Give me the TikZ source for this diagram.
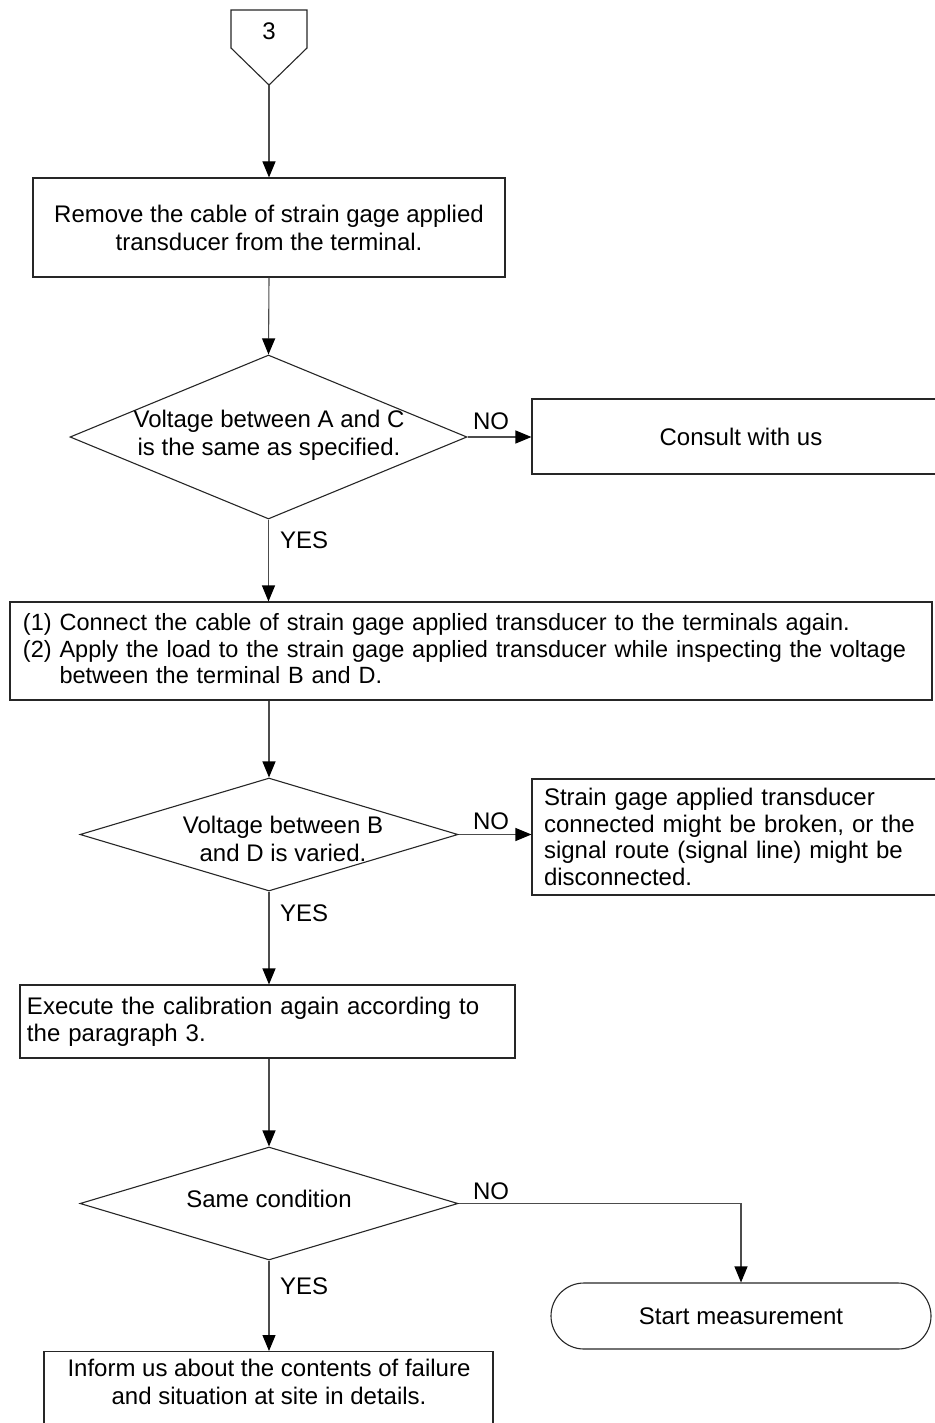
\documentclass[tikz,border=0pt]{standalone}
\usepackage{fontspec}
\setmainfont{Liberation Sans}
\usetikzlibrary{shapes.geometric,arrows.meta}
\begin{document}
\begin{tikzpicture}[x=1pt,y=-1pt,
  every node/.style={font=\fontsize{24}{28}\selectfont, inner sep=0pt},
  edge/.style={draw=black!85, line width=1.1pt},
  procbox/.style={edge, rectangle},
  decision/.style={edge, diamond},
  terminal/.style={edge, rectangle, rounded corners=33pt},
  flow/.style={draw=black!70, line width=1.1pt, -{Triangle[length=16pt,width=13pt,color=black]}},
  tag/.style={anchor=center}
]
\useasboundingbox (0,0) rectangle (934,1423);

% off-page connector
\draw[edge] (231,10) -- (307,10) -- (307,48) -- (269,85) -- (231,48) -- cycle;
\node (n3) at (269,31) {3};
\coordinate (c3tip) at (269,85);

% step: remove cable
\node[procbox, minimum width=472, minimum height=99, align=center] (remove) at (269,227.5)
  {Remove the cable of strain gage applied\\transducer from the terminal.};

% decision: voltage A-C
\node[decision, minimum width=397, minimum height=164] (q1) at (268.5,437) {};
\node[align=center] (q1t) at (269,435.5) {Voltage between A and C\\is the same as specified.};

\node[procbox, minimum width=418, minimum height=75] (consult) at (741,436.5) {Consult with us};

% step: reconnect and load
\node[procbox, minimum height=98, text width=896, inner xsep=13pt, align=left,
      font=\fontsize{23.5}{26.5}\selectfont] (connect) at (471,651)
  {(1) Connect the cable of strain gage applied transducer to the terminals again.\\
   (2) Apply the load to the strain gage applied transducer while inspecting the voltage\\
   \phantom{(2)}\ between the terminal B and D.};

% decision: voltage B-D
\node[decision, minimum width=378, minimum height=113] (q2) at (269,834.5) {};
\node[align=center] (q2t) at (283,838.5) {Voltage between B\\and D is varied.};

\node[procbox, minimum height=116, text width=394, inner xsep=12pt, align=left,
      font=\fontsize{24}{26.5}\selectfont] (broken) at (741,837)
  {Strain gage applied transducer\\connected might be broken, or the\\signal route (signal line) might be\\disconnected.};

% step: calibrate again
\node[procbox, minimum height=73, text width=481, inner xsep=7pt, align=left,
      font=\fontsize{24}{27}\selectfont] (exec) at (267.5,1021.5)
  {Execute the calibration again according to\\the paragraph 3.};

% decision: same condition
\node[decision, minimum width=378, minimum height=113] (q3) at (269,1203.5) {};
\node (q3t) at (269,1199) {Same condition};

\node[terminal, minimum width=380, minimum height=66] (start) at (741,1316) {Start measurement};

% step: report
\node[procbox, minimum width=449, minimum height=99, anchor=north] (inform) at (268.5,1351) {};
\node[align=center] (informt) at (269,1382) {Inform us about the contents of failure\\and situation at site in details.};

% connectors
\draw[flow] (c3tip) -- (remove.north);
\draw[flow] (remove.south) -- (q1.north);
\draw[flow] (q1.east) -- (q1.east -| consult.west);
\draw[flow] (q1.south) -- (q1.south |- connect.north);
\draw[flow] (q2.north |- connect.south) -- (q2.north);
\draw[flow] (q2.east) -- (q2.east -| broken.west);
\draw[flow] (q2.south) -- (q2.south |- exec.north);
\draw[flow] (q3.north |- exec.south) -- (q3.north);
\draw[flow] (q3.east) -| (start.north);
\draw[flow] (q3.south) -- (q3.south |- inform.north);

% branch labels
\node[tag] (no1) at (491,421) {NO};
\node[tag] (no2) at (491,821) {NO};
\node[tag] (no3) at (491,1191) {NO};
\node[anchor=west] (yes1) at (280,540) {YES};
\node[anchor=west] (yes2) at (280,913) {YES};
\node[anchor=west] (yes3) at (280,1286) {YES};
\end{tikzpicture}
\end{document}
